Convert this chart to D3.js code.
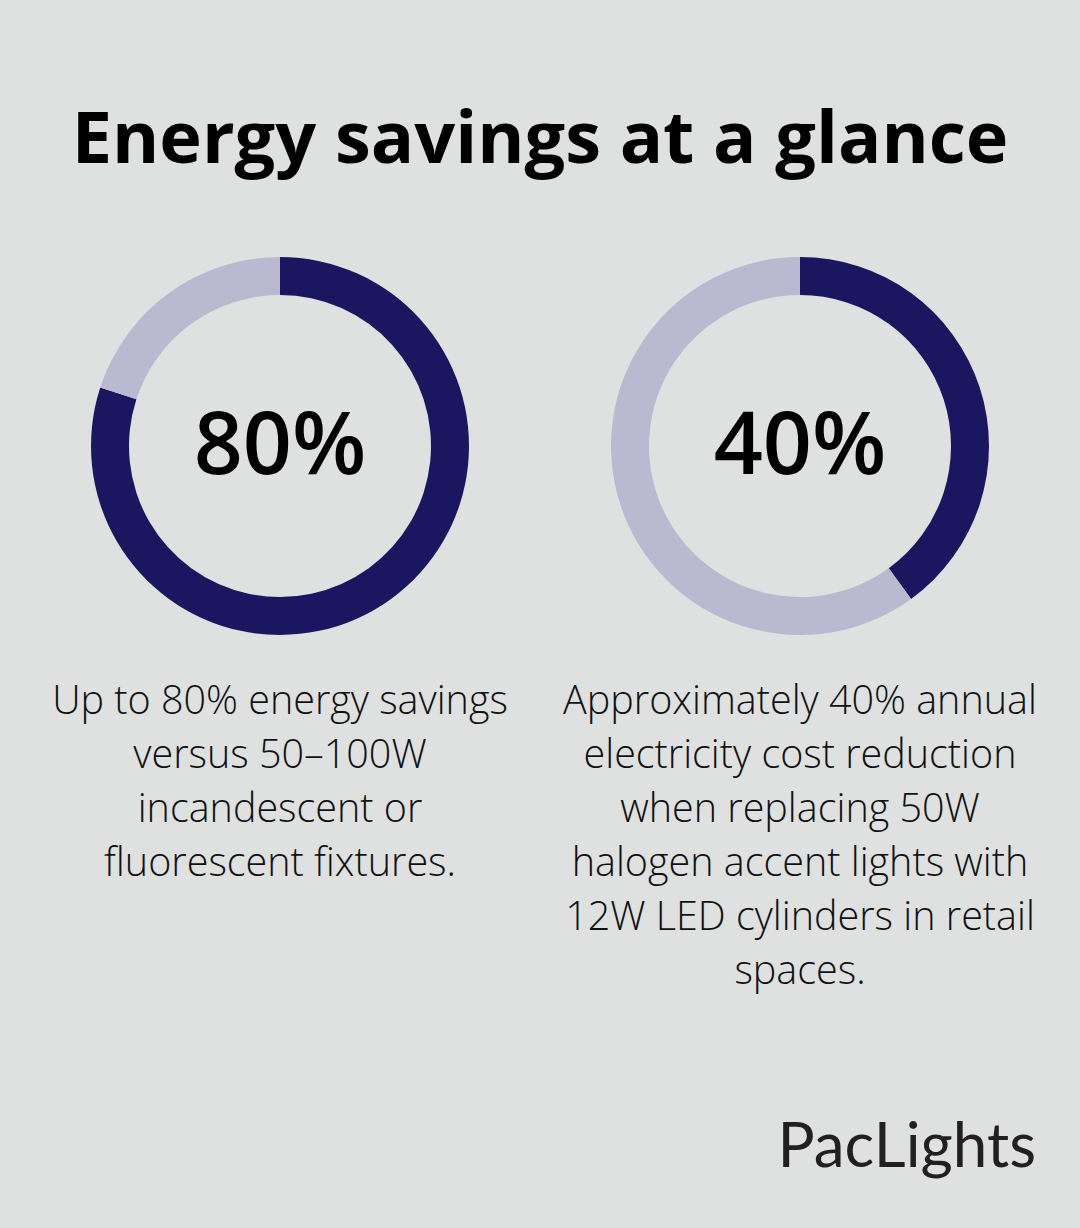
<!DOCTYPE html>
<html><head><meta charset="utf-8">
<script src="https://cdn.jsdelivr.net/npm/d3@7"></script>
<style>body{margin:0;background:#dfe1e1}</style>
</head><body>
<svg id="chart" width="1080" height="1228"></svg>
<script>
// data
const titles = ["80%", "40%"];
const values = [80, 40];
const captions = [
  ["Up to 80% energy savings", "versus 50\u2013100W", "incandescent or", "fluorescent fixtures."],
  ["Approximately 40% annual", "electricity cost reduction", "when replacing 50W", "halogen accent lights with", "12W LED cylinders in retail", "spaces."]
];

const svg = d3.select("#chart");
svg.append("rect").attr("width", 1080).attr("height", 1228).attr("fill", "#dfe1e1");

svg.append("text").attr("x", 540).attr("y", 163).attr("text-anchor", "middle")
  .attr("font-family", "Open Sans").attr("font-weight", 700).attr("font-size", 72)
  .attr("fill", "#000").text("Energy savings at a glance");

const x = d3.scalePoint().domain(d3.range(values.length)).range([280, 800]);
const pie = d3.pie().sort(null);
const arc = d3.arc().innerRadius(151).outerRadius(189);

values.forEach(function(v, i) {
  const g = svg.append("g").attr("transform", "translate(" + x(i) + ",446)");
  g.selectAll("path").data(pie([v, 100 - v])).enter().append("path")
    .attr("d", arc).attr("fill", function(d, j) { return j === 0 ? "#1a1760" : "#b9b9cf"; });
  g.append("text").attr("y", 28).attr("text-anchor", "middle")
    .attr("font-family", "Open Sans").attr("font-weight", 600).attr("font-size", 86)
    .attr("fill", "#000").text(titles[i]);
  const t = svg.append("text").attr("text-anchor", "middle")
    .attr("font-family", "Open Sans").attr("font-weight", 300).attr("font-size", 39.5).attr("fill", "#111");
  captions[i].forEach(function(line, k) {
    t.append("tspan").attr("x", x(i)).attr("y", 714 + k * 54).text(line);
  });
});

svg.append("text").attr("x", 1036).attr("y", 1167).attr("text-anchor", "end")
  .attr("font-family", "Lato").attr("font-weight", 400).attr("font-size", 62)
  .attr("fill", "#231f20").text("PacLights");
</script>
</body></html>
